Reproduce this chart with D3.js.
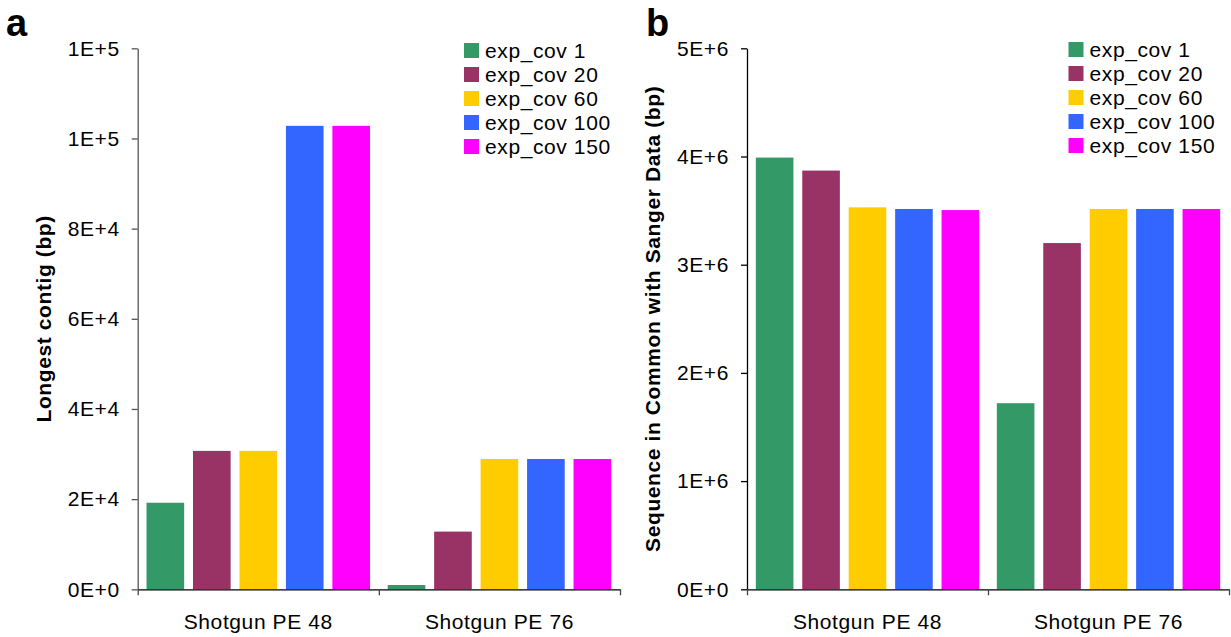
<!DOCTYPE html>
<html>
<head>
<meta charset="utf-8">
<script src="https://cdn.jsdelivr.net/npm/d3@7"></script>
<style>
  html, body { margin: 0; padding: 0; background: #fff; }
  svg { display: block; font-family: "Liberation Sans", Arial, sans-serif; }
  .tick text { font-size: 21px; letter-spacing: 0.6px; fill: #000; }
</style>
</head>
<body>
<svg id="chart" width="1231" height="637"></svg>
<script>
// ---- data ----
const categories = ["Shotgun PE 48", "Shotgun PE 76"];
const seriesNames = ["exp_cov 1", "exp_cov 20", "exp_cov 60", "exp_cov 100", "exp_cov 150"];
const seriesColors = ["#339966", "#993366", "#FFCC00", "#3366FF", "#FF00FF"];

// Panel a: Longest contig (bp), per category, per series
const contigPE48 = [19200, 30700, 30700, 102800, 102800];
const contigPE76 = [950, 12800, 28900, 28900, 28900];
const contigTicks = [0, 20000, 40000, 60000, 80000, 100000, 120000];
const contigTickLabels = ["0E+0", "2E+4", "4E+4", "6E+4", "8E+4", "1E+5", "1E+5"];

// Panel b: Sequence in common with Sanger data (bp)
const seqPE48 = [3990000, 3870000, 3530000, 3515000, 3505000];
const seqPE76 = [1720000, 3200000, 3515000, 3515000, 3515000];
const seqTicks = [0, 1000000, 2000000, 3000000, 4000000, 5000000];
const seqTickLabels = ["0E+0", "1E+6", "2E+6", "3E+6", "4E+6", "5E+6"];

const svg = d3.select("#chart");

function panel(opts) {
  const { x0, x1, yTop, yBot, values, ticks, tickLabels, yMax, yLabel, yLabelX, letter, letterX,
          legendX, legendY, yAxisColor } = opts;
  const g = svg.append("g");

  const x = d3.scaleBand().domain(categories).range([x0, x1]).paddingInner(0).paddingOuter(0);
  const xs = d3.scaleBand().domain(seriesNames).range([0, x.bandwidth()]).paddingInner(0.19).paddingOuter(0.19);
  const y = d3.scaleLinear().domain([0, yMax]).range([yBot, yTop]);

  // bars
  const rows = categories.map((c, i) => ({ cat: c, vals: values[i] }));
  const cg = g.selectAll("g.cat").data(rows).join("g").attr("class", "cat")
    .attr("transform", d => `translate(${x(d.cat)},0)`);
  cg.selectAll("rect").data(d => d.vals.map((v, j) => ({ name: seriesNames[j], v, color: seriesColors[j] })))
    .join("rect")
    .attr("x", d => xs(d.name))
    .attr("width", xs.bandwidth())
    .attr("y", d => y(d.v))
    .attr("height", d => yBot - y(d.v))
    .attr("fill", d => d.color);

  // y axis
  const ya = g.append("g").attr("transform", `translate(${x0},0)`)
    .call(d3.axisLeft(y).tickValues(ticks).tickFormat((d, i) => tickLabels[i]).tickSize(6).tickPadding(12).tickSizeOuter(0));
  ya.select(".domain").attr("stroke", yAxisColor).attr("stroke-width", 1.3);
  ya.selectAll(".tick line").attr("stroke", yAxisColor).attr("stroke-width", 1.3);

  // x axis: boundary ticks + category labels
  const bounds = categories.map(c => x(c)).concat([x1]);
  const xb = d3.scaleLinear().domain([x0, x1]).range([x0, x1]);
  const xa = g.append("g").attr("transform", `translate(0,${yBot})`)
    .call(d3.axisBottom(xb).tickValues(bounds).tickFormat("").tickSize(6).tickSizeOuter(0));
  xa.select(".domain").attr("stroke", "#000").attr("stroke-width", 1.3);
  xa.selectAll(".tick line").attr("stroke", "#444").attr("stroke-width", 1.3);

  g.selectAll("text.xlab").data(categories).join("text")
    .attr("class", "xlab")
    .attr("x", d => x(d) + x.bandwidth() / 2)
    .attr("y", yBot + 40)
    .attr("text-anchor", "middle")
    .style("font-size", "21px").style("letter-spacing", "0.6px")
    .text(d => d);

  // y label
  g.append("text")
    .attr("transform", `translate(${yLabelX},${(yTop + yBot) / 2}) rotate(-90)`)
    .attr("text-anchor", "middle")
    .attr("dy", "0.35em")
    .style("font-size", "21px").style("font-weight", "bold").style("letter-spacing", "0.6px")
    .text(yLabel);

  // panel letter
  g.append("text")
    .attr("x", letterX).attr("y", 36)
    .style("font-size", "38px").style("font-weight", "bold")
    .text(letter);

  // legend
  const lg = g.append("g").attr("transform", `translate(${legendX},${legendY})`);
  const items = lg.selectAll("g").data(seriesNames).join("g")
    .attr("transform", (d, i) => `translate(0,${i * 24})`);
  items.append("rect").attr("x", 0).attr("y", 0).attr("width", 15).attr("height", 15)
    .attr("fill", (d, i) => seriesColors[i]);
  items.append("text").attr("x", 21).attr("y", 15)
    .style("font-size", "21px").style("letter-spacing", "0.6px")
    .text(d => d);
}

panel({
  x0: 137.7, x1: 620, yTop: 48.3, yBot: 589.3,
  values: [contigPE48, contigPE76], ticks: contigTicks, tickLabels: contigTickLabels, yMax: 120000,
  yLabel: "Longest contig (bp)", yLabelX: 43.5, letter: "a", letterX: 6,
  legendX: 464, legendY: 43, yAxisColor: "#555"
});

panel({
  x0: 747, x1: 1229, yTop: 48.3, yBot: 589.3,
  values: [seqPE48, seqPE76], ticks: seqTicks, tickLabels: seqTickLabels, yMax: 5000000,
  yLabel: "Sequence in Common with Sanger Data (bp)", yLabelX: 652.5, letter: "b", letterX: 646,
  legendX: 1068.5, legendY: 42, yAxisColor: "#000"
});
</script>
</body>
</html>
